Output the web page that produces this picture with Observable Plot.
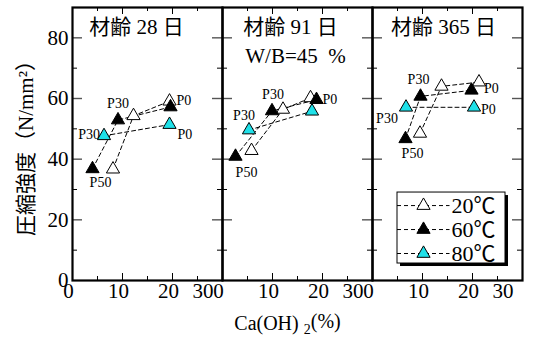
<!DOCTYPE html>
<html>
<head>
<meta charset="utf-8">
<script src="https://cdn.jsdelivr.net/npm/d3@7"></script>
<script src="https://cdn.jsdelivr.net/npm/@observablehq/plot@0.6"></script>
<style>
  body { margin: 0; background: #fff; }
  #chart svg { display: block; }
  #chart svg text, #chart svg tspan {
    font-family: "Liberation Serif", "Noto Sans CJK JP", serif !important;
  }
</style>
</head>
<body>
<div id="chart"></div>
<script>
// Curing ages (one panel each), temperature series and binder mixes
const ages = ["材齢 28 日", "材齢 91 日", "材齢 365 日"];
const series = ["20℃", "60℃", "80℃"];
const mixes = ["P50", "P30", "P0"];

// Ca(OH)2 content (%) — [age][mix]
const ca20 = [[8.1, 12.2, 19.4], [5.8, 12.1, 17.6], [9.5, 13.8, 21.3]];
const ca60 = [[4.0, 9.1, 19.6], [2.6, 9.9, 18.8], [6.6, 9.6, 19.8]];
const ca80 = [[null, 6.3, 19.4], [null, 5.3, 17.9], [null, 6.7, 20.3]];

// Compressive strength (N/mm²) — [age][mix]
const str20 = [[36.7, 54.3, 59.1], [42.8, 56.4, 60.2], [48.5, 64.0, 65.4]];
const str60 = [[36.8, 52.9, 57.2], [40.9, 55.9, 59.6], [46.7, 60.7, 62.7]];
const str80 = [[null, 47.7, 51.4], [null, 49.6, 55.8], [null, 57.1, 57.1]];

// Axis ticks
const xTickLabels = [0, 10, 20];
const xEndLabel = [30];
const xMajor = [10, 20];
const xMinor = [5, 15, 25];
const yTickLabels = [0, 20, 40, 60, 80];
const yMajor = [20, 40, 60, 80];
const yMinor = [10, 30, 50, 70];

const mixNote = "W/B=45\u00a0\u00a0%";
const xTitle = "Ca(OH) 2(%)";
const yTitle = "圧縮強度（N/mm²）";

// Long table built from the arrays above
const caBySeries = [ca20, ca60, ca80];
const strBySeries = [str20, str60, str80];
const rows = [];
series.forEach((s, si) => {
  ages.forEach((a, ai) => {
    mixes.forEach((m, mi) => {
      const ca = caBySeries[si][ai][mi];
      const st = strBySeries[si][ai][mi];
      if (ca != null && st != null) rows.push({age: a, series: s, mix: m, ca, st});
    });
  });
});

// Mix labels next to points: [panel, series, mix, anchor, dx, dy]
const labelSpecs = [
  [0, "60℃", "P30", "middle", 0, -17],
  [0, "20℃", "P0", "start", 7, -1],
  [0, "80℃", "P30", "end", -4, -1],
  [0, "80℃", "P0", "start", 8, 10],
  [0, "60℃", "P50", "middle", 8, 14],
  [1, "60℃", "P30", "middle", 1, -16],
  [1, "80℃", "P30", "middle", -5, -15],
  [1, "60℃", "P0", "start", 6, 0],
  [1, "60℃", "P50", "middle", 11, 16],
  [2, "60℃", "P30", "middle", -2, -17],
  [2, "20℃", "P0", "start", 5, 6],
  [2, "80℃", "P0", "start", 7, 2],
  [2, "80℃", "P30", "middle", -19, 11],
  [2, "60℃", "P50", "middle", 7, 15]
];

// Horizontal nudge of each panel title
const titleShift = [-11, -7, -4];

const W = 536, H = 338;
const mL = 72, mR = 14, mT = 7, mB = 58;
const innerH = H - mT - mB;
const panelW = (W - mL - mR) / ages.length;
const serif = "'Liberation Serif', 'Noto Sans CJK JP', serif";
const dash = "4,3";

const labelMarks = labelSpecs.map(([ai, s, m, anchor, dx, dy]) => {
  const p = rows.filter(r => r.age === ages[ai] && r.series === s && r.mix === m);
  return Plot.text(p, {
    x: "ca", y: "st", fx: "age", text: "mix",
    textAnchor: anchor, dx, dy, lineAnchor: "middle",
    fontSize: 14, fill: "black"
  });
});

const titleMarks = ages.map((a, i) =>
  Plot.text([a], {fx: d => d, text: d => d, frameAnchor: "top", dy: 20, dx: titleShift[i], lineAnchor: "middle", fontSize: 21})
);

// Legend sits inside the last panel (data units of that panel)
const legX1 = 5.0, legX2 = 26.6, legY1 = 5.6, legY2 = 29.0;
const legRow = (d, i) => 24.7 - i * 7.9;
const legPanel = () => ages[2];

const chart = Plot.plot({
  width: W,
  height: H,
  marginLeft: mL,
  marginRight: mR,
  marginTop: mT,
  marginBottom: mB,
  style: {fontFamily: serif, background: "white", color: "black"},
  fx: {domain: ages, padding: 0, axis: null},
  x: {domain: [0, 30]},
  y: {domain: [0, 90]},
  color: {domain: series, range: ["#ffffff", "#000000", "#1fe0e8"]},
  marks: [
    // minor / major ticks pointing inward on every panel edge
    Plot.tickX(xMinor, {x: d => d, insetTop: innerH - 4, stroke: "black"}),
    Plot.tickX(xMinor, {x: d => d, insetBottom: innerH - 4, stroke: "black"}),
    Plot.tickX(xMajor, {x: d => d, insetTop: innerH - 7, stroke: "black"}),
    Plot.tickX(xMajor, {x: d => d, insetBottom: innerH - 7, stroke: "black"}),
    Plot.tickY(yMinor, {y: d => d, insetRight: panelW - 5, stroke: "black"}),
    Plot.tickY(yMinor, {y: d => d, insetLeft: panelW - 5, stroke: "black"}),
    Plot.tickY(yMajor, {y: d => d, insetRight: panelW - 10, stroke: "#555", strokeWidth: 1.4}),
    Plot.tickY(yMajor, {y: d => d, insetLeft: panelW - 10, stroke: "#555", strokeWidth: 1.4}),

    Plot.frame({stroke: "black", strokeWidth: 2.2}),

    Plot.axisY({ticks: yTickLabels, tickSize: 0, tickPadding: 4, fontSize: 21, label: null}),
    Plot.axisX({ticks: xTickLabels, tickSize: 0, tickPadding: 3, fontSize: 21, dx: -4, label: null}),
    Plot.axisX({ticks: xEndLabel, tickSize: 0, tickPadding: 3, fontSize: 21, textAnchor: "end", dx: -9, label: null}),

    // dashed connecting lines P50 → P30 → P0
    Plot.line(rows, {x: "ca", y: "st", z: "series", fx: "age", stroke: "black", strokeWidth: 1, strokeDasharray: dash}),
    Plot.dot(rows, {x: "ca", y: "st", fx: "age", symbol: "triangle", r: 4.9, fill: "series", stroke: "black", strokeWidth: 1}),

    ...labelMarks,

    // panel titles and notes
    ...titleMarks,
    Plot.text([mixNote], {fx: () => ages[1], text: d => d, frameAnchor: "top", dy: 49, dx: -2, lineAnchor: "middle", fontSize: 21}),
    Plot.text([xTitle], {fx: () => ages[1], text: d => d, frameAnchor: "bottom", dy: 43, dx: -10, textAnchor: "middle", lineAnchor: "middle", fontSize: 20}),
    Plot.text([yTitle], {fx: () => ages[0], text: d => d, frameAnchor: "left", dx: -46, dy: -1, rotate: -90, textAnchor: "middle", lineAnchor: "middle", fontSize: 21}),

    // legend
    Plot.rect([0], {fx: legPanel, x1: legX1, x2: legX2, y1: legY1, y2: legY2, fill: "black", dx: 3, dy: 3}),
    Plot.rect([0], {fx: legPanel, x1: legX1, x2: legX2, y1: legY1, y2: legY2, fill: "white", stroke: "black", strokeWidth: 1}),
    Plot.ruleY(series, {fx: legPanel, y: legRow, x1: legX1, x2: 15.5, stroke: "black", strokeWidth: 1, strokeDasharray: dash}),
    Plot.dot(series, {fx: legPanel, y: legRow, x: () => 10.2, symbol: "triangle", r: 4.9, fill: d => d, stroke: "black", strokeWidth: 1}),
    Plot.text(series, {fx: legPanel, y: legRow, x: () => 15.8, text: d => d, textAnchor: "start", lineAnchor: "middle", fontSize: 22})
  ]
});

// subscript for Ca(OH)2
d3.select(chart).selectAll("text").filter(function () { return this.textContent === xTitle; })
  .each(function () {
    const t = d3.select(this);
    t.text(null);
    t.append("tspan").text("Ca(OH) ");
    t.append("tspan").attr("font-size", 14).attr("dy", "0.3em").text("2");
    t.append("tspan").attr("dy", "-0.3em").text("(%)");
  });

document.getElementById("chart").appendChild(chart);
</script>
</body>
</html>
